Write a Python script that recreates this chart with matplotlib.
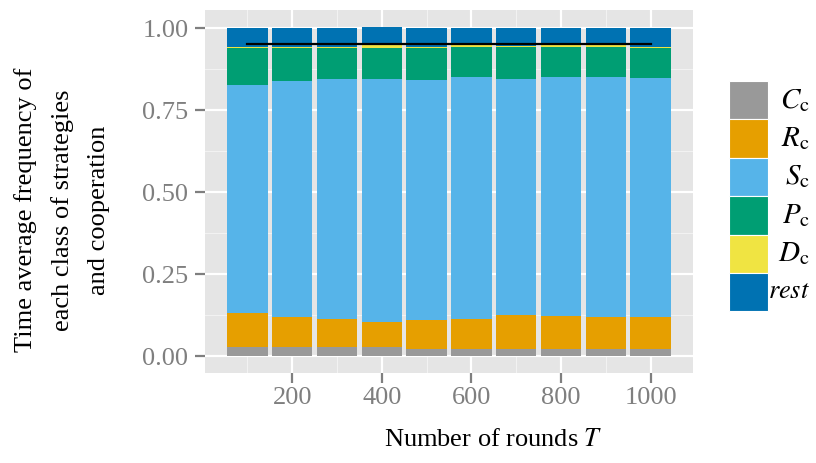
import matplotlib
matplotlib.use("Agg")
import matplotlib.pyplot as plt
from matplotlib.patches import Rectangle
import numpy as np

plt.rcParams['font.family'] = ['Liberation Serif', 'DejaVu Serif']
plt.rcParams['mathtext.fontset'] = 'stix'

# data
rounds = [100, 200, 300, 400, 500, 600, 700, 800, 900, 1000]
freq_C = [0.027, 0.027, 0.027, 0.027, 0.022, 0.022, 0.022, 0.022, 0.022, 0.022]
freq_R = [0.104, 0.092, 0.088, 0.076, 0.090, 0.093, 0.104, 0.100, 0.097, 0.097]
freq_S = [0.696, 0.720, 0.730, 0.742, 0.730, 0.736, 0.719, 0.729, 0.732, 0.729]
freq_P = [0.113, 0.101, 0.095, 0.094, 0.098, 0.092, 0.098, 0.092, 0.092, 0.092]
freq_D = [0.003, 0.003, 0.003, 0.008, 0.003, 0.004, 0.003, 0.004, 0.004, 0.003]
freq_rest = [0.057, 0.057, 0.057, 0.057, 0.057, 0.053, 0.054, 0.053, 0.053, 0.057]
cooperation = [0.951, 0.951, 0.951, 0.951, 0.951, 0.951, 0.951, 0.951, 0.951, 0.951]

labels = [r'$C_{\mathrm{c}}$', r'$R_{\mathrm{c}}$', r'$S_{\mathrm{c}}$',
          r'$P_{\mathrm{c}}$', r'$D_{\mathrm{c}}$', r'$\it{rest}$']
label_sizes = [21, 21, 21, 21, 21, 19]
colors = ['#999999', '#E69F00', '#56B4E9', '#009E73', '#F0E442', '#0072B2']
series = [freq_C, freq_R, freq_S, freq_P, freq_D, freq_rest]

fig = plt.figure(figsize=(8.16, 4.63), dpi=100)
ax = fig.add_axes([205/816, 1 - 373/463, (693 - 205)/816, (373 - 10)/463])
ax.set_facecolor('#E5E5E5')

"""
Grid
"""
for x in [100, 300, 500, 700, 900]:
    ax.axvline(x, color='#F2F2F2', lw=0.8, zorder=0)
for y in [0.125, 0.375, 0.625, 0.875]:
    ax.axhline(y, color='#F2F2F2', lw=0.8, zorder=0)
for x in [200, 400, 600, 800, 1000]:
    ax.axvline(x, color='white', lw=1.6, zorder=0)
for y in [0.0, 0.25, 0.5, 0.75, 1.0]:
    ax.axhline(y, color='white', lw=1.6, zorder=0)

"""
Stacked bars
"""
bottom = np.zeros(len(rounds))
for vals, c in zip(series, colors):
    ax.bar(rounds, vals, width=90, bottom=bottom, color=c, linewidth=0, zorder=2)
    bottom += np.array(vals)

ax.plot(rounds, cooperation, color='black', lw=1.6, zorder=3)

ax.set_xlim(5.5, 1094.5)
ax.set_ylim(-0.051, 1.055)
ax.set_xticks([200, 400, 600, 800, 1000])
ax.set_yticks([0.0, 0.25, 0.5, 0.75, 1.0])
ax.set_yticklabels(['0.00', '0.25', '0.50', '0.75', '1.00'])
ax.tick_params(colors='#7F7F7F', labelcolor='#7F7F7F', labelsize=19,
               length=7, width=1.6)
ax.tick_params(axis='y', pad=5)
ax.tick_params(axis='x', pad=3)
for s in ax.spines.values():
    s.set_visible(False)

fig.text(493/816, 1 - 440/463, r'Number of rounds $T$', ha='center', va='center',
         fontsize=19)
fig.text(62/816, 1 - 210/463,
         'Time average frequency of\neach class of strategies\nand cooperation',
         rotation=90, ha='center', va='center', multialignment='center',
         fontsize=19, linespacing=1.8)

"""
Legend (keys drawn by hand, labels right aligned)
"""
key_x, key_w, key_h, key_top = 729, 39, 38.4, 81
for i, (lab, c) in enumerate(zip(labels, colors)):
    y0 = key_top + i * key_h
    fig.patches.append(Rectangle((key_x/816, 1 - (y0 + key_h)/463), key_w/816, key_h/463,
                                 transform=fig.transFigure, facecolor=c,
                                 edgecolor='white', lw=0.8))
    fig.text(810/816, 1 - (y0 + key_h/2)/463, lab, ha='right', va='center',
             fontsize=label_sizes[i])

plt.savefig('out.png', dpi=100)
plt.close()
